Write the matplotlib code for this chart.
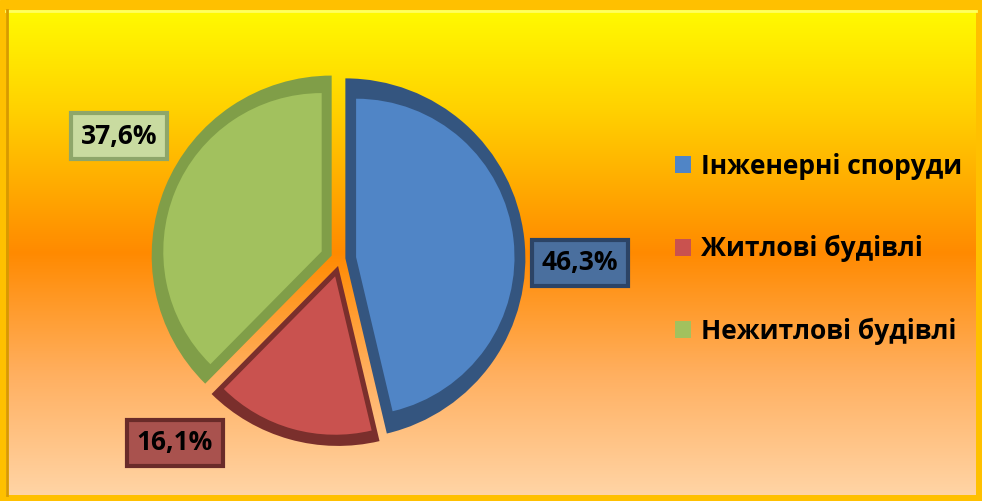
import numpy as np
import matplotlib.pyplot as plt
from matplotlib.patches import Rectangle

# data
categories = ['Інженерні споруди', 'Житлові будівлі', 'Нежитлові будівлі']
shares = [46.3, 16.1, 37.6]

# styling
main_colors = ['#5085C6', '#C9524F', '#A2C15E']
bevel_colors = ['#34557F', '#7A2F2C', '#809E48']
box_colors = ['#4A6F9E', '#A9524E', '#C9DBA0']
box_edges = ['#2C4466', '#6A2B29', '#8EA66A']
explode = [0.03, 0.04, 0.05]
label_pos = [(1.333, -0.02), (-0.917, -1.022), (-1.228, 0.683)]

plt.rcParams['font.family'] = ['Open Sans', 'DejaVu Sans']

W, H = 982, 501
fig = plt.figure(figsize=(W / 100, H / 100), dpi=100)

# background: frame + vertical gradient panel
bg = fig.add_axes([0, 0, 1, 1])
bg.set_xlim(0, W)
bg.set_ylim(H, 0)
bg.axis('off')
bg.add_patch(Rectangle((0, 0), W, H, color='#FFC000'))
stops = [0.0, 0.2, 0.5, 0.75, 1.0]
cols = np.array([[255, 250, 0], [255, 210, 0], [255, 138, 0],
                 [255, 175, 95], [255, 212, 165]]) / 255
t = np.linspace(0, 1, 256)
grad = np.stack([np.interp(t, stops, cols[:, i]) for i in range(3)], axis=1)
bg.imshow(grad[:, None, :], extent=(6, W - 6, H - 6, 10), aspect='auto', zorder=1)
bg.plot([6, W - 6], [11, 11], color='#FFFF60', lw=2, zorder=2)
bg.plot([7, 7], [10, H - 6], color='#D89A00', lw=2, zorder=2)

# pie axes: centre at (340, 259) px, 180 px per unit
cx, cy, L = 340, 259, 1.45
half = 180 * L
ax = fig.add_axes([(cx - half) / W, (H - cy - half) / H, 2 * half / W, 2 * half / H])
ax.axis('off')

bev = 0.06
ax.pie(shares, radius=1.0, colors=bevel_colors, explode=explode,
       startangle=90, counterclock=False, wedgeprops=dict(linewidth=0))
inner, _ = ax.pie(shares, radius=1.0 - 2 * bev, colors=main_colors,
                  explode=[e + bev for e in explode],
                  startangle=90, counterclock=False, wedgeprops=dict(linewidth=0))
ax.set_xlim(-L, L)
ax.set_ylim(-L, L)

for v, (x, y), fc, ec in zip(shares, label_pos, box_colors, box_edges):
    ax.text(x, y, f'{v:.1f}%'.replace('.', ','), ha='center', va='center',
            fontsize=19, fontweight='bold', color='black',
            bbox=dict(boxstyle='square,pad=0.36', facecolor=fc, edgecolor=ec, linewidth=3))

leg = fig.legend(inner, categories, loc='center left', bbox_to_anchor=(675 / W, 0.503),
                 frameon=False, fontsize=19, handlelength=0.6, handleheight=0.6,
                 handletextpad=0.4, labelspacing=2.1, borderpad=0, borderaxespad=0)
for txt in leg.get_texts():
    txt.set_fontweight('bold')

fig.savefig('out.png', dpi=100)
